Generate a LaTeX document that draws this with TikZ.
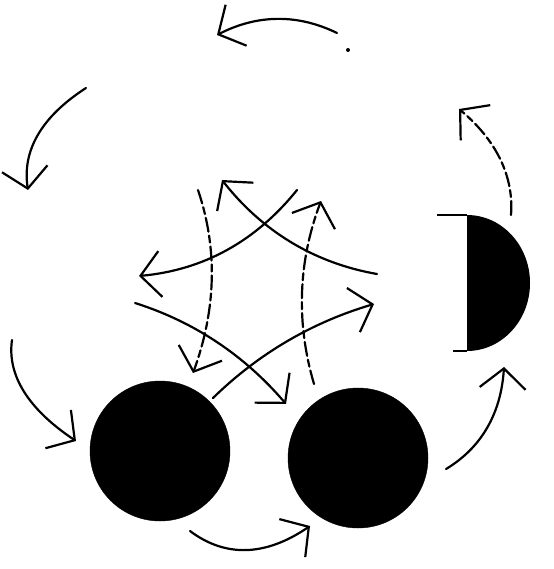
\documentclass[tikz,border=0pt]{standalone}
\usepackage{tikz}
\usetikzlibrary{arrows.meta,calc}

\begin{document}
\begin{tikzpicture}[x=1pt, y=-1pt,
  ball/.style={circle, fill=black, draw=black, minimum size=140pt, inner sep=0pt},
  arr/.style={line width=2.2pt, line cap=round, -{Straight Barb[length=20pt, width=46pt, line width=2.2pt]}},
  dashy/.style={dash pattern=on 14pt off 4pt on 7pt off 4pt}]
\useasboundingbox (0,0) rectangle (553,569);
% Bodies
\node[ball] (ballA) at (160,451) {};
\node[ball] (ballB) at (358,458) {};
\coordinate (hdTop) at (467,215);
\coordinate (hdBot) at (467,351);
\fill (hdTop) arc[start angle=-90, end angle=90, x radius=63, y radius=68] -- cycle;
\draw[line width=1.2pt] (hdTop) -- ++(-30,0);
\draw[line width=1.2pt] (hdBot) -- ++(-14,0);
\fill (348,50) circle (2);
% Outer cycle
\coordinate (topS) at (337,33);   \coordinate (topE) at (217,35);
\coordinate (luS) at (86,88);     \coordinate (luE) at (28,190);
\coordinate (llS) at (12,340);    \coordinate (llE) at (76,441);
\coordinate (botS) at (190,531);  \coordinate (botE) at (310,526);
\coordinate (rlS) at (446,469);   \coordinate (rlE) at (504,367);
\coordinate (ruS) at (511,215);   \coordinate (ruE) at (459,109);
\draw[arr] (topS) .. controls (298,14) and (258,14) .. (topE);
\draw[arr] (luS) .. controls (41,117) and (22,151) .. (luE);
\draw[arr] (llS) .. controls (7,375) and (28,409) .. (llE);
\draw[arr] (botS) .. controls (226,558) and (266,556) .. (botE);
\draw[arr] (rlS) .. controls (481,448) and (501,414) .. (rlE);
\draw[arr, dashy] (ruS) .. controls (514,176) and (496,140) .. (ruE);
% Inner star
\coordinate (aS) at (377,274);  \coordinate (aE) at (222,180);
\coordinate (bS) at (297,190);  \coordinate (bE) at (139,276);
\coordinate (cS) at (135,303);  \coordinate (cE) at (286,404);
\coordinate (dS) at (213,398);  \coordinate (dE) at (374,304);
\coordinate (eS) at (198,190);  \coordinate (eE) at (193,373);
\coordinate (fS) at (314,384);  \coordinate (fE) at (321,201);
\draw[arr] (aS) .. controls (314,263) and (262,231) .. (aE);
\draw[arr] (bS) .. controls (256,241) and (204,270) .. (bE);
\draw[arr] (cS) .. controls (195,322) and (245,356) .. (cE);
\draw[arr] (dS) .. controls (259,353) and (313,322) .. (dE);
\draw[arr, dashy] (eS) .. controls (218,249) and (216,310) .. (eE);
\draw[arr, dashy] (fS) .. controls (296,323) and (298,262) .. (fE);
\end{tikzpicture}
\end{document}
